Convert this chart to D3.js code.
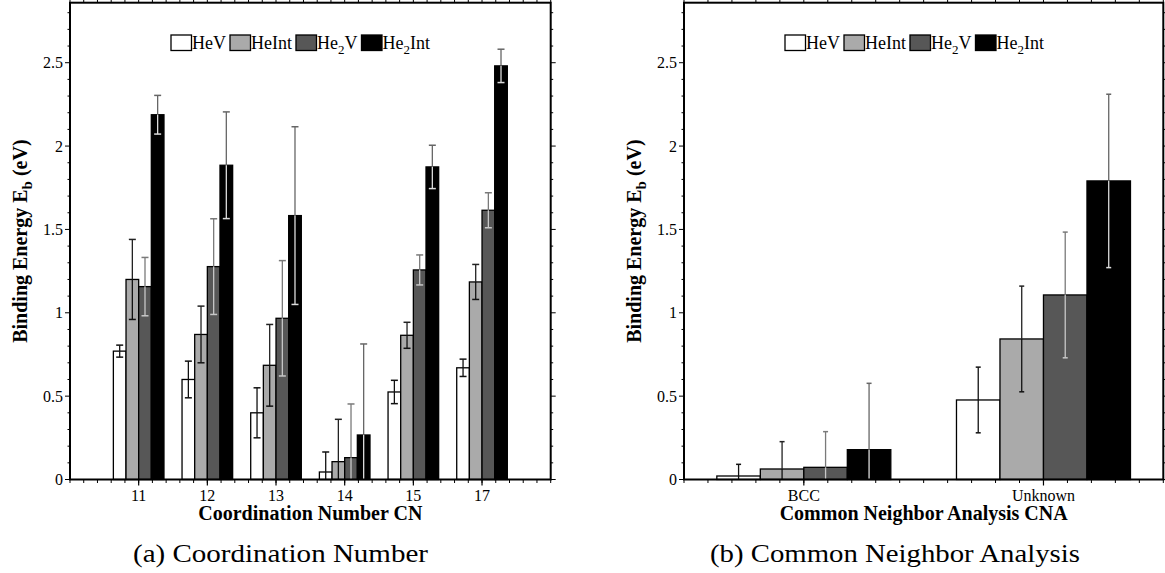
<!DOCTYPE html>
<html><head><meta charset="utf-8">
<script src="https://cdn.jsdelivr.net/npm/d3@7"></script>
<style>
html,body{margin:0;padding:0;background:#fff;}
svg, svg text{font-family:"Liberation Serif","Times New Roman",Tinos,Times,serif;}
</style></head>
<body>
<svg id="chart" width="1165" height="573" font-family="Liberation Serif, Times New Roman, serif"></svg>
<script>
// ---------- data ----------
const seriesNames = ["HeV", "HeInt", "He2V", "He2Int"];
const cnCategories = ["11", "12", "13", "14", "15", "17"];
const cnHeV      = [0.77, 0.60, 0.40, 0.045, 0.525, 0.67];
const cnHeVErr   = [0.036, 0.11, 0.15, 0.12, 0.07, 0.052];
const cnHeInt    = [1.20, 0.87, 0.685, 0.107, 0.865, 1.185];
const cnHeIntErr = [0.24, 0.17, 0.245, 0.254, 0.078, 0.105];
const cnHe2V     = [1.157, 1.277, 0.967, 0.131, 1.257, 1.615];
const cnHe2VErr  = [0.175, 0.287, 0.346, 0.322, 0.09, 0.105];
const cnHe2Int   = [2.188, 1.885, 1.583, 0.267, 1.875, 2.481];
const cnHe2IntErr= [0.116, 0.32, 0.533, 0.546, 0.13, 0.1];

const cnaCategories = ["BCC", "Unknown"];
const cnaHeV      = [0.021, 0.477];
const cnaHeVErr   = [0.07, 0.197];
const cnaHeInt    = [0.063, 0.843];
const cnaHeIntErr = [0.164, 0.317];
const cnaHe2V     = [0.073, 1.107];
const cnaHe2VErr  = [0.214, 0.377];
const cnaHe2Int   = [0.179, 1.791];
const cnaHe2IntErr= [0.398, 0.52];

const yTickValues = [0, 0.5, 1, 1.5, 2, 2.5];
const yTickLabels = ["0", "0.5", "1", "1.5", "2", "2.5"];

// ---------- styles ----------
const FONT = "Liberation Serif, Times New Roman, serif";
const fills = {HeV: "#ffffff", HeInt: "#aaaaaa", He2V: "#575757", He2Int: "#000000"};
const errOut = {HeV: "#111", HeInt: "#222", He2V: "#7a7a7a", He2Int: "#666"};
const errIn  = {HeV: "#111", HeInt: "#111", He2V: "#c8c8c8", He2Int: "#dcdcdc"};

const svg = d3.select("#chart");

function buildRows(cats, vals, errs) {
  return cats.map((c, i) => ({
    cat: c,
    items: seriesNames.map((s, k) => ({series: s, value: vals[k][i], err: errs[k][i]}))
  }));
}

function drawPanel(o) {
  const g = svg.append("g").attr("font-family", FONT);
  const y = d3.scaleLinear().domain([0, 2.86]).range([o.y1, o.y0]);
  const step = (o.x1 - o.x0) / o.nSteps;
  const x = d3.scaleBand().domain(o.cats).range([o.x0 + step * o.pad, o.x1 - step * o.pad]).paddingInner(0).paddingOuter(0);
  const bw = x.bandwidth();
  const gw = bw * o.groupFrac;
  const xs = d3.scaleBand().domain(seriesNames).range([(bw - gw) / 2, (bw + gw) / 2]);
  const rows = buildRows(o.cats, o.vals, o.errs);

  // bars
  const grp = g.selectAll("g.grp").data(rows).join("g")
    .attr("transform", d => `translate(${x(d.cat)},0)`);
  grp.selectAll("rect").data(d => d.items).join("rect")
    .attr("x", d => xs(d.series))
    .attr("y", d => y(d.value))
    .attr("width", xs.bandwidth())
    .attr("height", d => y(0) - y(d.value))
    .attr("fill", d => fills[d.series])
    .attr("stroke", "#000").attr("stroke-width", 1.3);

  // error bars
  const eb = grp.selectAll("g.eb").data(d => d.items).join("g")
    .attr("transform", d => `translate(${xs(d.series) + xs.bandwidth() / 2},0)`);
  const cw = o.capW / 2;
  eb.append("line").attr("x1", 0).attr("x2", 0)
    .attr("y1", d => y(d.value)).attr("y2", d => y(d.value + d.err))
    .attr("stroke", d => errOut[d.series]).attr("stroke-width", 1.3);
  eb.append("line").attr("x1", -cw).attr("x2", cw)
    .attr("y1", d => y(d.value + d.err)).attr("y2", d => y(d.value + d.err))
    .attr("stroke", d => errOut[d.series]).attr("stroke-width", 1.5);
  eb.append("line").attr("x1", 0).attr("x2", 0)
    .attr("y1", d => y(d.value)).attr("y2", d => y(Math.max(0, d.value - d.err)))
    .attr("stroke", d => errIn[d.series]).attr("stroke-width", 1.3);
  eb.filter(d => d.value - d.err > 0).append("line").attr("x1", -cw).attr("x2", cw)
    .attr("y1", d => y(d.value - d.err)).attr("y2", d => y(d.value - d.err))
    .attr("stroke", d => errIn[d.series]).attr("stroke-width", 1.5);

  // frame
  g.append("rect").attr("x", o.x0).attr("y", o.y0).attr("width", o.x1 - o.x0).attr("height", o.y1 - o.y0)
    .attr("fill", "none").attr("stroke", "#000").attr("stroke-width", 2);

  // y ticks (left & right)
  const minorY = d3.range(0, 29).map(i => i / 10);
  const isMajorY = v => Math.abs(v * 2 - Math.round(v * 2)) < 1e-6;
  g.append("g").selectAll("line").data(minorY).join("line")
    .attr("x1", o.x0).attr("x2", v => o.x0 - (isMajorY(v) ? 5 : 2.5))
    .attr("y1", v => y(v)).attr("y2", v => y(v)).attr("stroke", "#000").attr("stroke-width", 1);
  g.append("g").selectAll("line").data(minorY).join("line")
    .attr("x1", o.x1).attr("x2", v => o.x1 + (isMajorY(v) ? 5 : 2.5))
    .attr("y1", v => y(v)).attr("y2", v => y(v)).attr("stroke", "#000").attr("stroke-width", 1);
  g.append("g").selectAll("text").data(yTickValues).join("text")
    .attr("x", o.x0 - 7).attr("y", v => y(v) + 5.5)
    .attr("text-anchor", "end").attr("font-size", 16)
    .text((v, i) => yTickLabels[i]);

  // x ticks
  const nMinor = o.nSteps * o.minorPer;
  const minorX = d3.range(0, nMinor + 1).map(i => o.x0 + i * (o.x1 - o.x0) / nMinor);
  g.append("g").selectAll("line").data(minorX).join("line")
    .attr("x1", v => v).attr("x2", v => v).attr("y1", o.y0).attr("y2", o.y0 - 3)
    .attr("stroke", "#000").attr("stroke-width", 1);
  g.append("g").selectAll("line").data(minorX).join("line")
    .attr("x1", v => v).attr("x2", v => v).attr("y1", o.y1).attr("y2", o.y1 + 3.5)
    .attr("stroke", "#000").attr("stroke-width", 1);
  g.append("g").selectAll("line").data(o.cats).join("line")
    .attr("x1", c => x(c) + bw / 2).attr("x2", c => x(c) + bw / 2).attr("y1", o.y1).attr("y2", o.y1 + 6)
    .attr("stroke", "#000").attr("stroke-width", 1.2);
  g.append("g").selectAll("text").data(o.cats).join("text")
    .attr("x", c => x(c) + bw / 2).attr("y", 501)
    .attr("text-anchor", "middle").attr("font-size", 16).text(c => c);

  // axis titles
  g.append("text").attr("x", (o.x0 + o.x1) / 2).attr("y", 520)
    .attr("text-anchor", "middle").attr("font-size", 20).attr("font-weight", "bold").text(o.xTitle);
  const yt = g.append("text")
    .attr("transform", `translate(${o.yTitleX},${(o.y0 + o.y1) / 2}) rotate(-90)`)
    .attr("text-anchor", "middle").attr("font-size", 20).attr("font-weight", "bold");
  yt.append("tspan").text("Binding Energy E");
  yt.append("tspan").attr("dy", 5).attr("font-size", 15).text("b");
  yt.append("tspan").attr("dy", -5).text(" (eV)");

  // legend
  const lg = g.append("g").attr("font-size", 18);
  let lx = o.x0 + 101;
  seriesNames.forEach(s => {
    lg.append("rect").attr("x", lx).attr("y", 35).attr("width", 20.5).attr("height", 15.5)
      .attr("fill", fills[s]).attr("stroke", "#000").attr("stroke-width", 1.3);
    const t = lg.append("text").attr("x", lx + 21).attr("y", 49);
    if (s.startsWith("He2")) {
      t.append("tspan").text("He");
      t.append("tspan").attr("dy", 5).attr("font-size", 13).text("2");
      t.append("tspan").attr("dy", -5).text(s.slice(3));
    } else {
      t.text(s);
    }
    lx = lx + 21 + t.node().getComputedTextLength() + 4;
  });

  // caption
  svg.append("text").attr("x", o.capX0).attr("y", 562).attr("font-family", FONT)
    .attr("font-size", 26).attr("textLength", o.capX1 - o.capX0).attr("lengthAdjust", "spacingAndGlyphs")
    .text(o.caption);
}

drawPanel({
  x0: 70, x1: 550.7, y0: 2.7, y1: 479.5, nSteps: 7, pad: 0.5, minorPer: 5,
  cats: cnCategories,
  vals: [cnHeV, cnHeInt, cnHe2V, cnHe2Int],
  errs: [cnHeVErr, cnHeIntErr, cnHe2VErr, cnHe2IntErr],
  groupFrac: 0.737, capW: 7,
  xTitle: "Coordination Number CN", yTitleX: 27,
  caption: "(a) Coordination Number", capX0: 133, capX1: 428
});

drawPanel({
  x0: 684, x1: 1163.3, y0: 2.7, y1: 479.5, nSteps: 2, pad: 0, minorPer: 10,
  cats: cnaCategories,
  vals: [cnaHeV, cnaHeInt, cnaHe2V, cnaHe2Int],
  errs: [cnaHeVErr, cnaHeIntErr, cnaHe2VErr, cnaHe2IntErr],
  groupFrac: 0.726, capW: 5,
  xTitle: "Common Neighbor Analysis CNA", yTitleX: 641,
  caption: "(b) Common Neighbor Analysis", capX0: 710, capX1: 1080
});
</script>
</body></html>
